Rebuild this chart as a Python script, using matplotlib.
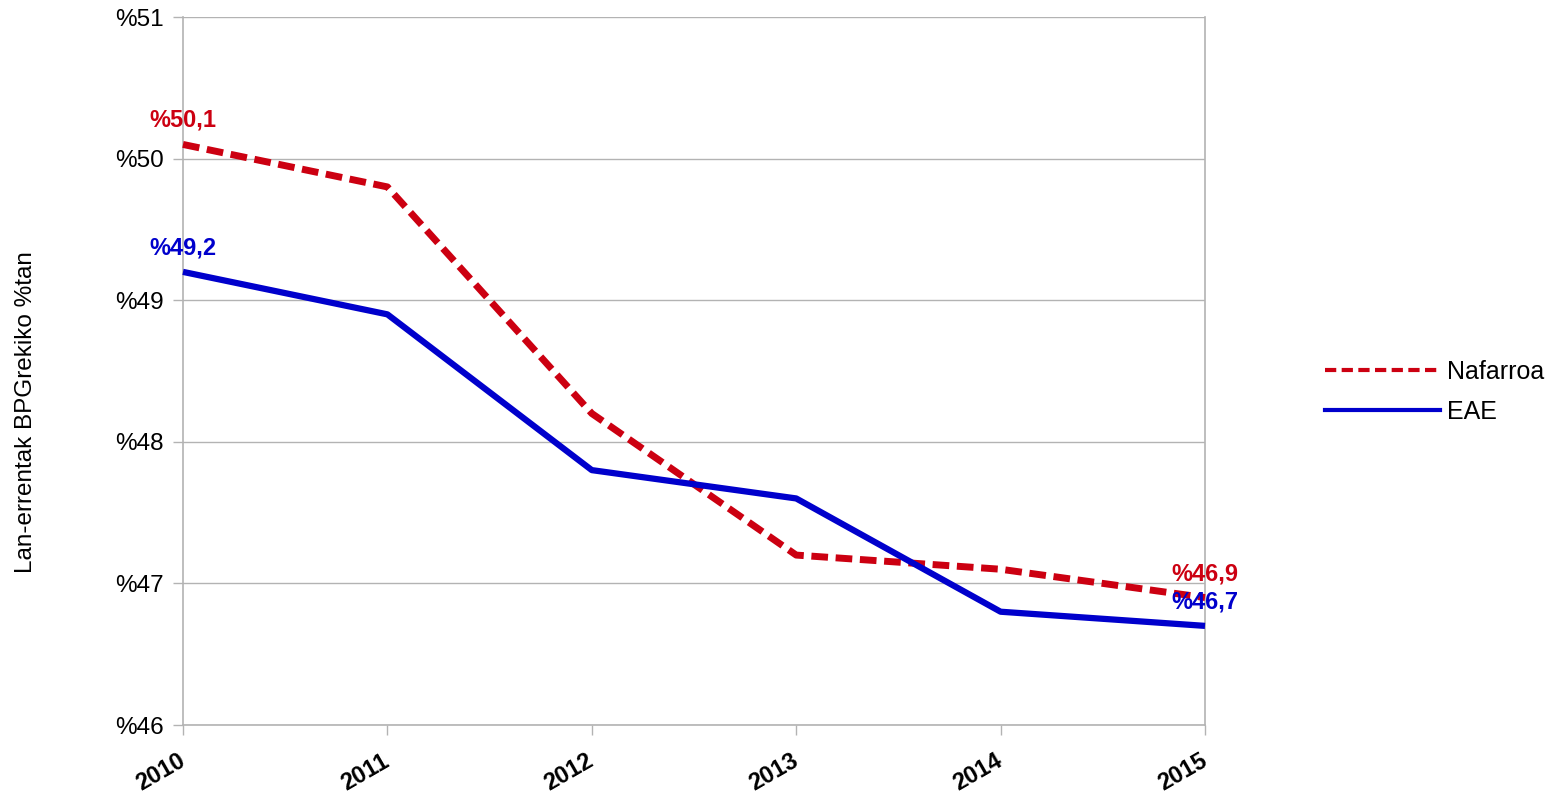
import matplotlib
matplotlib.use("Agg")
import matplotlib.pyplot as plt
from matplotlib.lines import Line2D

plt.rcParams['font.family'] = ['Liberation Sans', 'DejaVu Sans']

years = [2010, 2011, 2012, 2013, 2014, 2015]
nafarroa = [50.1, 49.8, 48.2, 47.2, 47.1, 46.9]
eae = [49.2, 48.9, 47.8, 47.6, 46.8, 46.7]
yticks = [46, 47, 48, 49, 50, 51]
ylabel = "Lan-errentak BPGrekiko %tan"

red = '#CC0011'
blue = '#0000CC'
grid = '#b3b3b3'

fig = plt.figure(figsize=(15.55, 7.95), dpi=100)
ax = fig.add_axes([183/1555, 1-725/795, (1205-183)/1555, (725-17)/795])

ax.plot(years, nafarroa, color=red, lw=5, dashes=(2.4, 1.1), dash_capstyle='butt',
        clip_on=False, zorder=3)
ax.plot(years, eae, color=blue, lw=4.5, solid_capstyle='butt', clip_on=False, zorder=4)

ax.set_xlim(years[0], years[-1])
ax.set_ylim(yticks[0], yticks[-1])
ax.set_xticks(years)
ax.set_xticklabels([])
ax.set_yticks(yticks)
ax.set_yticklabels([f"%{v}" for v in yticks], fontsize=17.5)
for y in years:
    ax.annotate(str(y), (y, 0), xycoords=ax.get_xaxis_transform(),
                xytext=(-4, -17.5), textcoords='offset points',
                fontsize=17, fontweight='bold', rotation=30,
                ha='right', va='top', rotation_mode='anchor', annotation_clip=False)
ax.tick_params(axis='both', length=7, width=1, color=grid, direction='out')
ax.tick_params(axis='y', pad=7)
for s in ax.spines.values():
    s.set_visible(False)
ax.grid(True, axis='y', color=grid, lw=1)
ax.set_axisbelow(True)
ax.axvline(years[0], color=grid, lw=1.2, zorder=1, clip_on=False)
ax.axvline(years[-1], color=grid, lw=1.2, zorder=1, clip_on=False)
ax.axhline(yticks[0], color=grid, lw=1.2, zorder=1, clip_on=False)

fig.text(26/1555, 1-412/795, ylabel, rotation=90, ha='center', va='center', fontsize=17.5)

def lab(x, y, color):
    ax.annotate(f"%{y:.1f}".replace('.', ','), (x, y), xytext=(0, 9), textcoords='offset points',
                ha='center', va='bottom', color=color, fontsize=17, fontweight='bold', zorder=5)

lab(years[0], nafarroa[0], red)
lab(years[0], eae[0], blue)
lab(years[-1], nafarroa[-1], red)
lab(years[-1], eae[-1], blue)

handles = [Line2D([], [], color=red, lw=3, dashes=(2.7, 1.3), dash_capstyle='butt'),
           Line2D([], [], color=blue, lw=3)]
fig.legend(handles, ['Nafarroa', 'EAE'], loc='center left', bbox_to_anchor=(1302/1555, 1-392/795),
           frameon=False, fontsize=18, handlelength=4.6, handletextpad=0.3, labelspacing=0.65)

fig.savefig('out.png', dpi=100)
